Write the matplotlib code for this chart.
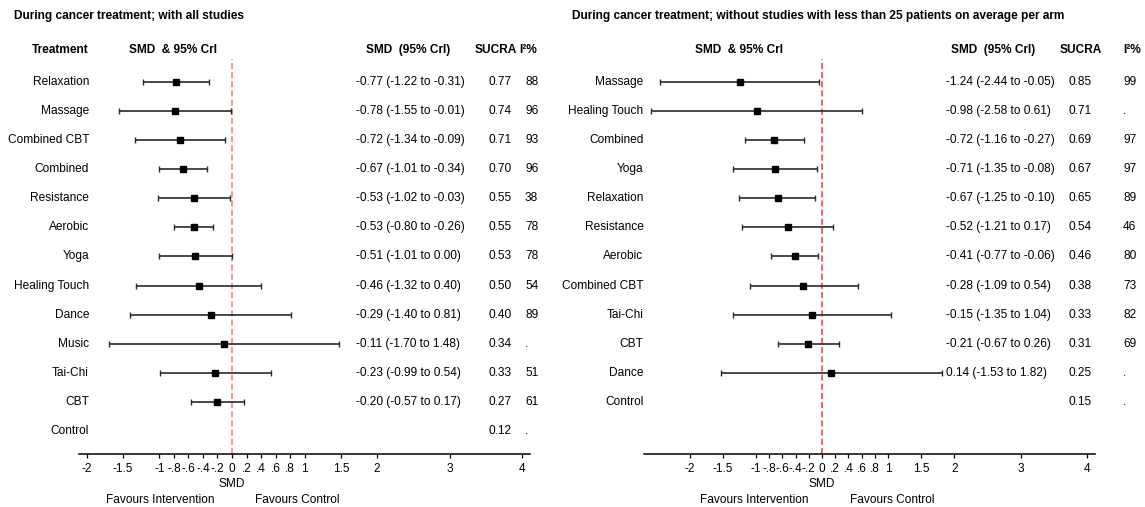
import matplotlib
matplotlib.use("Agg")
import matplotlib.pyplot as plt
from matplotlib.transforms import blended_transform_factory

plt.rcParams['font.family'] = ['Liberation Sans', 'DejaVu Sans']

W, H = 1145, 507

# left panel: during cancer treatment, all studies
left_treat = ["Relaxation", "Massage", "Combined CBT", "Combined", "Resistance", "Aerobic",
              "Yoga", "Healing Touch", "Dance", "Music", "Tai-Chi", "CBT", "Control"]
left_smd = [-0.77, -0.78, -0.72, -0.67, -0.53, -0.53, -0.51, -0.46, -0.29, -0.11, -0.23, -0.20]
left_lo = [-1.22, -1.55, -1.34, -1.01, -1.02, -0.80, -1.01, -1.32, -1.40, -1.70, -0.99, -0.57]
left_hi = [-0.31, -0.01, -0.09, -0.34, -0.03, -0.26, 0.00, 0.40, 0.81, 1.48, 0.54, 0.17]
left_sucra = [0.77, 0.74, 0.71, 0.70, 0.55, 0.55, 0.53, 0.50, 0.40, 0.34, 0.33, 0.27, 0.12]
left_i2 = [88, 96, 93, 96, 38, 78, 78, 54, 89, None, 51, 61, None]

# right panel: without studies with < 25 patients per arm
right_treat = ["Massage", "Healing Touch", "Combined", "Yoga", "Relaxation", "Resistance",
               "Aerobic", "Combined CBT", "Tai-Chi", "CBT", "Dance", "Control"]
right_smd = [-1.24, -0.98, -0.72, -0.71, -0.67, -0.52, -0.41, -0.28, -0.15, -0.21, 0.14]
right_lo = [-2.44, -2.58, -1.16, -1.35, -1.25, -1.21, -0.77, -1.09, -1.35, -0.67, -1.53]
right_hi = [-0.05, 0.61, -0.27, -0.08, -0.10, 0.17, -0.06, 0.54, 1.04, 0.26, 1.82]
right_sucra = [0.85, 0.71, 0.69, 0.67, 0.65, 0.54, 0.46, 0.38, 0.33, 0.31, 0.25, 0.15]
right_i2 = [99, None, 97, 97, 89, 46, 80, 73, 82, 69, None, None]

tick_vals = [-2, -1.5, -1, -.8, -.6, -.4, -.2, 0, .2, .4, .6, .8, 1, 1.5, 2, 3, 4]
tick_labels = ["-2", "-1.5", "-1", "-.8", "-.6", "-.4", "-.2", "0", ".2", ".4", ".6", ".8",
               "1", "1.5", "2", "3", "4"]

FS = 8.6
ROW0, ROWH = 82, 29.08
AX_TOP, AX_BOT = 59, 454

fig = plt.figure(figsize=(W / 100, H / 100), dpi=100)


def fx(px):
    return px / W


def fy(py):
    return 1 - py / H


def panel(cfg):
    x0, x1, zero, unit = cfg["ax_left"], cfg["ax_right"], cfg["zero"], cfg["unit"]
    ax = fig.add_axes([fx(x0), fy(AX_BOT), (x1 - x0) / W, (AX_BOT - AX_TOP) / H])
    ax.set_xlim((x0 - zero) / unit, (x1 - zero) / unit)
    ax.set_ylim((AX_BOT - ROW0) / ROWH, (AX_TOP - ROW0) / ROWH)
    for s in ["left", "right", "top"]:
        ax.spines[s].set_visible(False)
    ax.spines["bottom"].set_linewidth(1.1)
    ax.set_yticks([])
    ax.set_xticks(tick_vals)
    ax.set_xticklabels(tick_labels)
    ax.tick_params(axis="x", direction="out", length=3, width=0.9, pad=3.5, labelsize=FS)
    ax.patch.set_alpha(0)

    ax.axvline(0, color=cfg["ref_color"], lw=1.1, ls=(0, (4, 2)), zorder=1)

    rows = range(len(cfg["smd"]))
    ax.errorbar(cfg["smd"], list(rows),
                xerr=[[m - l for m, l in zip(cfg["smd"], cfg["lo"])],
                      [h - m for m, h in zip(cfg["smd"], cfg["hi"])]],
                fmt="s", color="black", ms=3.8, ecolor="#2a2a2a", elinewidth=1.2,
                capsize=2.4, capthick=1.0, zorder=3)

    tr = blended_transform_factory(fig.transFigure, ax.transData)
    for i, name in enumerate(cfg["treat"]):
        ax.text(fx(cfg["label_x"]), i, name, transform=tr, ha="right", va="center", fontsize=FS)
        if i < len(cfg["smd"]):
            s = f"{cfg['smd'][i]:.2f} ({cfg['lo'][i]:.2f} to {cfg['hi'][i]:.2f})"
            ax.text(fx(cfg["val_x"]), i, s, transform=tr, ha="left", va="center", fontsize=FS)
        ax.text(fx(cfg["sucra_x"]), i, f"{cfg['sucra'][i]:.2f}", transform=tr,
                ha="left", va="center", fontsize=FS)
        i2 = cfg["i2"][i]
        ax.text(fx(cfg["i2_x"]), i, "." if i2 is None else str(i2), transform=tr,
                ha="left", va="center", fontsize=FS)

    # titles and column headers
    fig.text(fx(cfg["title_x"]), fy(16), cfg["title"], ha="left", va="center",
             fontsize=FS, fontweight="bold")
    if cfg.get("treat_header"):
        fig.text(fx(cfg["label_x"]), fy(50), "Treatment", ha="right", va="center",
                 fontsize=FS, fontweight="bold")
    for key, txt in [("h_ci", "SMD  & 95% CrI"), ("h_val", "SMD  (95% CrI)"),
                     ("h_sucra", "SUCRA"), ("h_i2", "I²%")]:
        fig.text(fx(cfg[key]), fy(50), txt, ha="center", va="center",
                 fontsize=FS, fontweight="bold")

    fig.text(fx(zero), fy(484), "SMD", ha="center", va="center", fontsize=FS)
    fig.text(fx(cfg["fav_int"]), fy(500), "Favours Intervention", ha="center", va="center", fontsize=FS)
    fig.text(fx(cfg["fav_ctl"]), fy(500), "Favours Control", ha="center", va="center", fontsize=FS)


panel(dict(treat=left_treat, smd=left_smd, lo=left_lo, hi=left_hi, sucra=left_sucra, i2=left_i2,
           ax_left=79, ax_right=530, zero=232, unit=72.6, ref_color="#f47a7a",
           label_x=89, val_x=356.5, sucra_x=488.5, i2_x=525,
           title_x=13.5, title="During cancer treatment; with all studies", treat_header=True,
           h_ci=173, h_val=408, h_sucra=496, h_i2=528, fav_int=160, fav_ctl=297))

panel(dict(treat=right_treat, smd=right_smd, lo=right_lo, hi=right_hi, sucra=right_sucra, i2=right_i2,
           ax_left=644, ax_right=1095, zero=822, unit=66.2, ref_color="#ee3b3b",
           label_x=643.5, val_x=946, sucra_x=1068.5, i2_x=1123,
           title_x=572,
           title="During cancer treatment; without studies with less than 25 patients on average per arm",
           h_ci=739, h_val=993, h_sucra=1081, h_i2=1132, fav_int=754, fav_ctl=892))

fig.savefig("out.png", dpi=100)
